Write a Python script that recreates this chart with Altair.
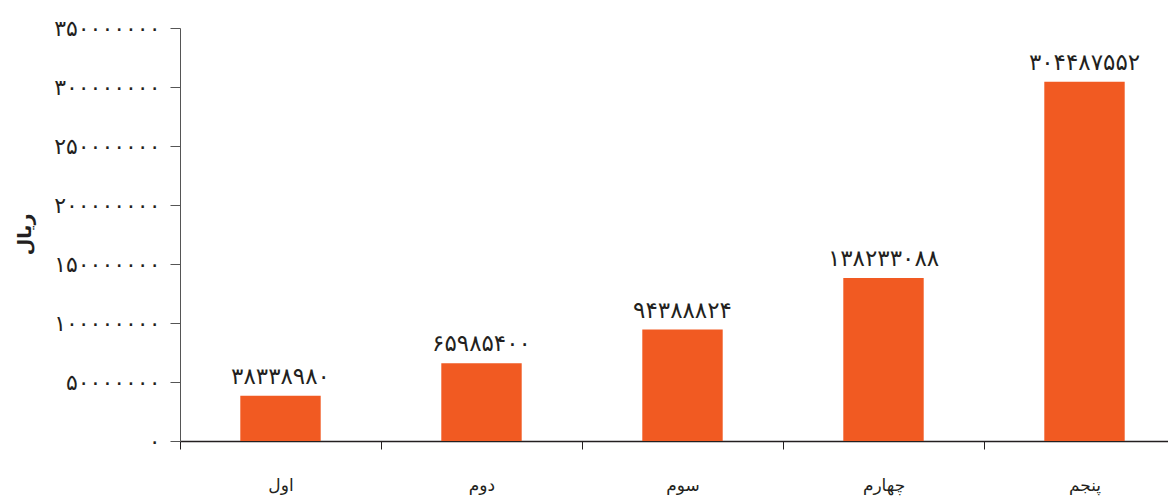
import altair as alt
import pandas as pd

categories = ["اول", "دوم", "سوم", "چهارم", "پنجم"]
values = [38338980, 65985400, 94388824, 138233088, 304487552]
y_ticks = [0, 50000000, 100000000, 150000000, 200000000, 250000000, 300000000, 350000000]

fa = str.maketrans("0123456789", "۰۱۲۳۴۵۶۷۸۹")
df = pd.DataFrame({
    "cat": categories,
    "val": values,
    "lab": [str(v).translate(fa) for v in values],
})

expr = "datum.label"
for d, p in zip("0123456789", "۰۱۲۳۴۵۶۷۸۹"):
    expr = f"replace({expr}, regexp('{d}', 'g'), '{p}')"

FONT = "DejaVu Sans"

x = alt.X("cat:N", sort=categories, title=None,
          scale=alt.Scale(paddingInner=0.6, paddingOuter=0.3, range=[0, 1005]),
          axis=alt.Axis(labelAngle=0, tickOffset=-100.5, labelOffset=100.5,
                        tickSize=8, labelPadding=28,
                        labelFontSize=17, labelFont=FONT, labelColor="#231f20",
                        domainColor="#231f20", domainWidth=1.5, tickColor="#231f20"))

y = alt.Y("val:Q", title="ریال",
          scale=alt.Scale(domain=[0, 350000000], nice=False),
          axis=alt.Axis(values=y_ticks, format="d", labelExpr=expr, grid=False,
                        tickSize=10, labelPadding=10, labelFontSize=22, labelFont=FONT,
                        labelColor="#231f20", domainColor="#555555", tickColor="#555555",
                        titleFont=FONT, titleFontSize=19, titleFontWeight="bold",
                        titleColor="#231f20", titleAngle=270, titleX=-146, titleY=206))

base = alt.Chart(df).encode(x=x, y=y)
bars = base.mark_bar(color="#F15A22")
text = base.mark_text(baseline="bottom", dy=-7, fontSize=23, font=FONT,
                      color="#231f20").encode(text="lab:N")

chart = (bars + text).properties(
    width=988, height=413,
    background="white",
    autosize=alt.AutoSizeParams(type="none"),
    padding={"left": 172, "top": 20, "right": 0, "bottom": 62},
).configure_view(strokeWidth=0)

chart.save("out.html", embed_options={"renderer": "svg", "actions": False})
